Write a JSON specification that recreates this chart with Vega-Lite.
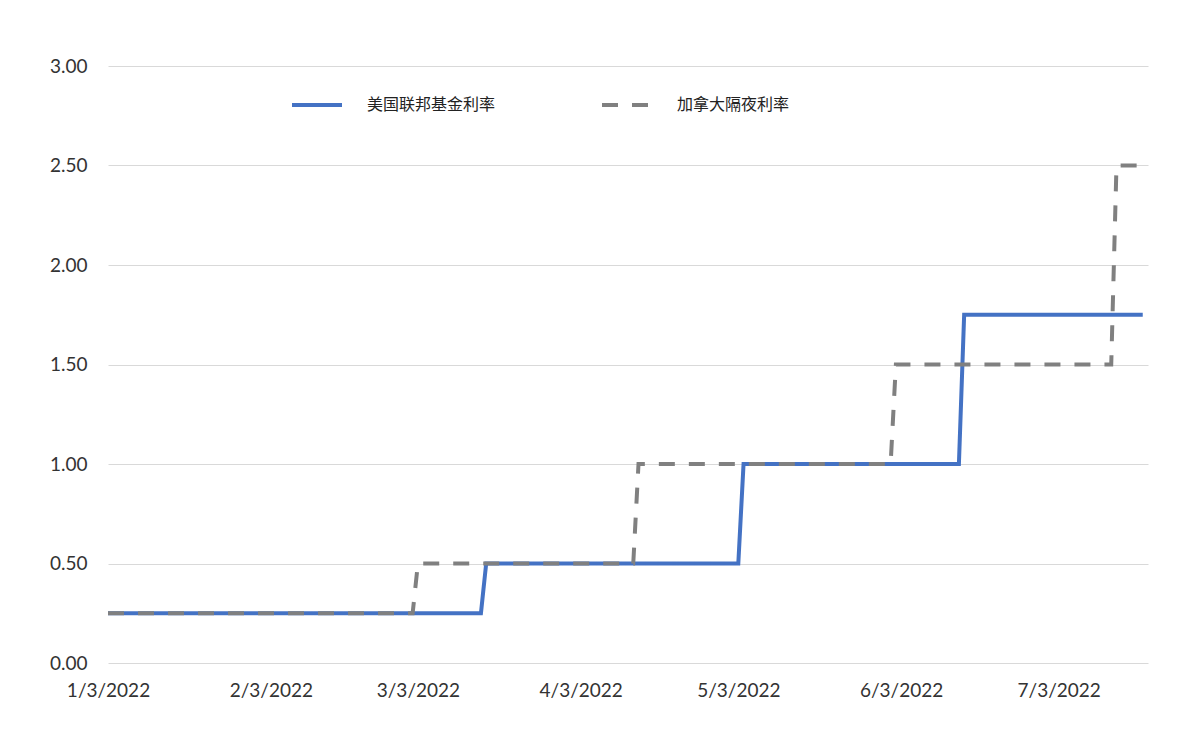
{
  "$schema": "https://vega.github.io/schema/vega-lite/v6.json",
  "autosize": "none",
  "width": 1040,
  "height": 597,
  "padding": {"left": 108, "top": 66, "right": 42, "bottom": 82},
  "background": "white",
  "config": {
    "view": {"stroke": null},
    "font": "Lato"
  },
  "data": {
    "values": [
      {"date": "2022-01-03", "rate": 0.25, "series": "美国联邦基金利率"},
      {"date": "2022-03-15", "rate": 0.25, "series": "美国联邦基金利率"},
      {"date": "2022-03-16", "rate": 0.5, "series": "美国联邦基金利率"},
      {"date": "2022-05-03", "rate": 0.5, "series": "美国联邦基金利率"},
      {"date": "2022-05-04", "rate": 1.0, "series": "美国联邦基金利率"},
      {"date": "2022-06-14", "rate": 1.0, "series": "美国联邦基金利率"},
      {"date": "2022-06-15", "rate": 1.75, "series": "美国联邦基金利率"},
      {"date": "2022-07-19", "rate": 1.75, "series": "美国联邦基金利率"},
      {"date": "2022-01-03", "rate": 0.25, "series": "加拿大隔夜利率"},
      {"date": "2022-03-02", "rate": 0.25, "series": "加拿大隔夜利率"},
      {"date": "2022-03-03", "rate": 0.5, "series": "加拿大隔夜利率"},
      {"date": "2022-04-13", "rate": 0.5, "series": "加拿大隔夜利率"},
      {"date": "2022-04-14", "rate": 1.0, "series": "加拿大隔夜利率"},
      {"date": "2022-06-01", "rate": 1.0, "series": "加拿大隔夜利率"},
      {"date": "2022-06-02", "rate": 1.5, "series": "加拿大隔夜利率"},
      {"date": "2022-07-13", "rate": 1.5, "series": "加拿大隔夜利率"},
      {"date": "2022-07-14", "rate": 2.5, "series": "加拿大隔夜利率"},
      {"date": "2022-07-19", "rate": 2.5, "series": "加拿大隔夜利率"}
    ]
  },
  "encoding": {
    "x": {
      "field": "date",
      "type": "temporal",
      "scale": {"type": "utc", "domain": [{"year": 2022, "month": 1, "date": 3, "utc": true}, {"year": 2022, "month": 7, "date": 20, "utc": true}]},
      "axis": {
        "title": null,
        "values": [
          {"year": 2022, "month": 1, "date": 3, "utc": true},
          {"year": 2022, "month": 2, "date": 3, "utc": true},
          {"year": 2022, "month": 3, "date": 3, "utc": true},
          {"year": 2022, "month": 4, "date": 3, "utc": true},
          {"year": 2022, "month": 5, "date": 3, "utc": true},
          {"year": 2022, "month": 6, "date": 3, "utc": true},
          {"year": 2022, "month": 7, "date": 3, "utc": true}
        ],
        "labelExpr": "utcFormat(datum.value, '%-m/%-d/%Y')",
        "grid": false,
        "domain": false,
        "ticks": false,
        "labelFont": "Lato",
        "labelFontSize": 19,
        "labelColor": "#333333",
        "labelPadding": 18,
        "labelFlush": false,
        "labelOverlap": false
      }
    },
    "y": {
      "field": "rate",
      "type": "quantitative",
      "scale": {"domain": [0, 3]},
      "axis": {
        "title": null,
        "values": [0, 0.5, 1, 1.5, 2, 2.5, 3],
        "format": ".2f",
        "grid": true,
        "gridColor": "#D9D9D9",
        "gridWidth": 1,
        "domain": false,
        "ticks": false,
        "labelFont": "Lato",
        "labelFontSize": 19,
        "labelColor": "#333333",
        "labelPadding": 21
      }
    },
    "color": {
      "field": "series",
      "type": "nominal",
      "scale": {"domain": ["美国联邦基金利率", "加拿大隔夜利率"], "range": ["#4472C4", "#808080"]},
      "legend": {
        "title": null,
        "orient": "none",
        "legendX": 182,
        "legendY": 12,
        "direction": "horizontal",
        "symbolType": "stroke",
        "symbolSize": 2500,
        "symbolStrokeWidth": 4,
        "labelFont": "Noto Sans CJK SC",
        "labelFontSize": 16,
        "labelColor": "#222222",
        "labelOffset": 23,
        "columnPadding": 98,
        "labelLimit": 300
      }
    },
    "strokeDash": {
      "field": "series",
      "type": "nominal",
      "scale": {"domain": ["美国联邦基金利率", "加拿大隔夜利率"], "range": [[1, 0], [16, 14]]},
      "legend": null
    }
  },
  "layer": [
    {
      "transform": [{"filter": "datum.series === '美国联邦基金利率'"}],
      "mark": {"type": "line", "strokeWidth": 4, "strokeJoin": "miter"}
    },
    {
      "transform": [{"filter": "datum.series === '加拿大隔夜利率'"}],
      "mark": {"type": "line", "strokeWidth": 4, "strokeJoin": "miter"}
    }
  ]
}
